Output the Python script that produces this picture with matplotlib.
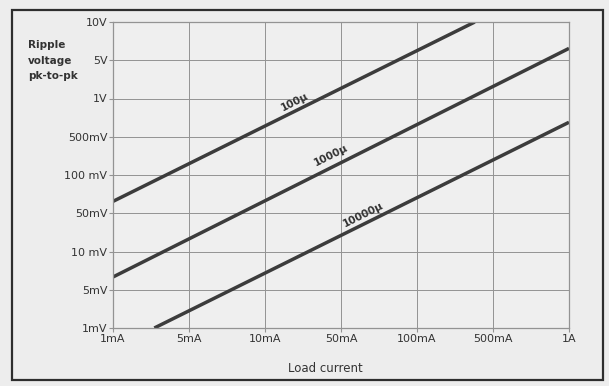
import numpy as np
import matplotlib
matplotlib.use('Agg')
import matplotlib.pyplot as plt
from matplotlib.patches import Rectangle

# grid values (the chart spaces 1-5-10 steps evenly)
x_ticks = [1e-3, 5e-3, 1e-2, 5e-2, 0.1, 0.5, 1.0]
x_labels = ['1mA', '5mA', '10mA', '50mA', '100mA', '500mA', '1A']
y_ticks = [1e-3, 5e-3, 1e-2, 5e-2, 0.1, 0.5, 1.0, 5.0, 10.0]
y_labels = ['1mV', '5mV', '10 mV', '50mV', '100 mV', '500mV', '1V', '5V', '10V']

# end points of each capacitor line (load current A, ripple V)
cap_names = ['100\u00b5', '1000\u00b5', '10000\u00b5']
cap_current = [[1e-3, 0.34], [1e-3, 1.0], [2.4e-3, 1.0]]
cap_ripple = [[0.062, 10.0], [6.3e-3, 6.2], [1e-3, 0.65]]


def make_scale(ticks):
    # piecewise log scale: each 1-5-10 step gets the same width
    lt = np.log10(ticks)
    idx = np.arange(len(ticks), dtype=float)

    def fwd(v):
        v = np.asarray(v, dtype=float)
        lv = np.log10(np.clip(v, 1e-12, None))
        return np.interp(lv, lt, idx)

    def inv(p):
        return 10 ** np.interp(np.asarray(p, dtype=float), idx, lt)
    return fwd, inv


bg = '#ededed'
line_col = '#3c3c3c'
grid_col = '#939393'
txt_col = '#333333'

fig = plt.figure(figsize=(6.09, 3.86), dpi=100, facecolor=bg)
ax = fig.add_axes([113/609, 1-328/386, 456/609, 306/386])
ax.set_facecolor('#efefef')

ax.set_xscale('function', functions=make_scale(x_ticks))
ax.set_yscale('function', functions=make_scale(y_ticks))
ax.set_xlim(x_ticks[0], x_ticks[-1])
ax.set_ylim(y_ticks[0], y_ticks[-1])

ax.set_xticks(x_ticks)
ax.set_xticklabels(x_labels)
ax.set_yticks(y_ticks)
ax.set_yticklabels(y_labels)
ax.minorticks_off()
ax.tick_params(axis='both', colors=grid_col, labelcolor=txt_col, labelsize=8,
               length=3, width=0.8)
ax.tick_params(axis='x', pad=1, direction='out')
ax.tick_params(axis='y', pad=1, direction='out')
ax.grid(True, color=grid_col, linewidth=0.7)
for s in ax.spines.values():
    s.set_color(grid_col)
    s.set_linewidth(0.9)

for cx, cy in zip(cap_current, cap_ripple):
    ax.plot(cx, cy, color=line_col, linewidth=2.5, solid_capstyle='butt',
            clip_on=True)

# labels sitting on the lines
lab_pos = [(0.398, 0.739), (0.477, 0.565), (0.548, 0.369)]
for name, (px, py) in zip(cap_names, lab_pos):
    ax.text(px, py, name, transform=ax.transAxes, rotation=26.5,
            ha='center', va='center', fontsize=7.5, color=txt_col,
            fontweight='bold')

fig.text(28/609, 1-40/386, 'Ripple\nvoltage\npk-to-pk', ha='left', va='top',
         fontsize=7.5, color=txt_col, linespacing=1.7, fontweight='semibold')
fig.text(325/609, 1-368/386, 'Load current', ha='center', va='center',
         fontsize=8.5, color=txt_col)

fig.patches.append(Rectangle((12/609, 1-380/386), 591/609, 370/386,
                             transform=fig.transFigure, fill=False,
                             edgecolor='#2e2e2e', linewidth=1.6))

fig.savefig('out.png', dpi=100, facecolor=bg)
